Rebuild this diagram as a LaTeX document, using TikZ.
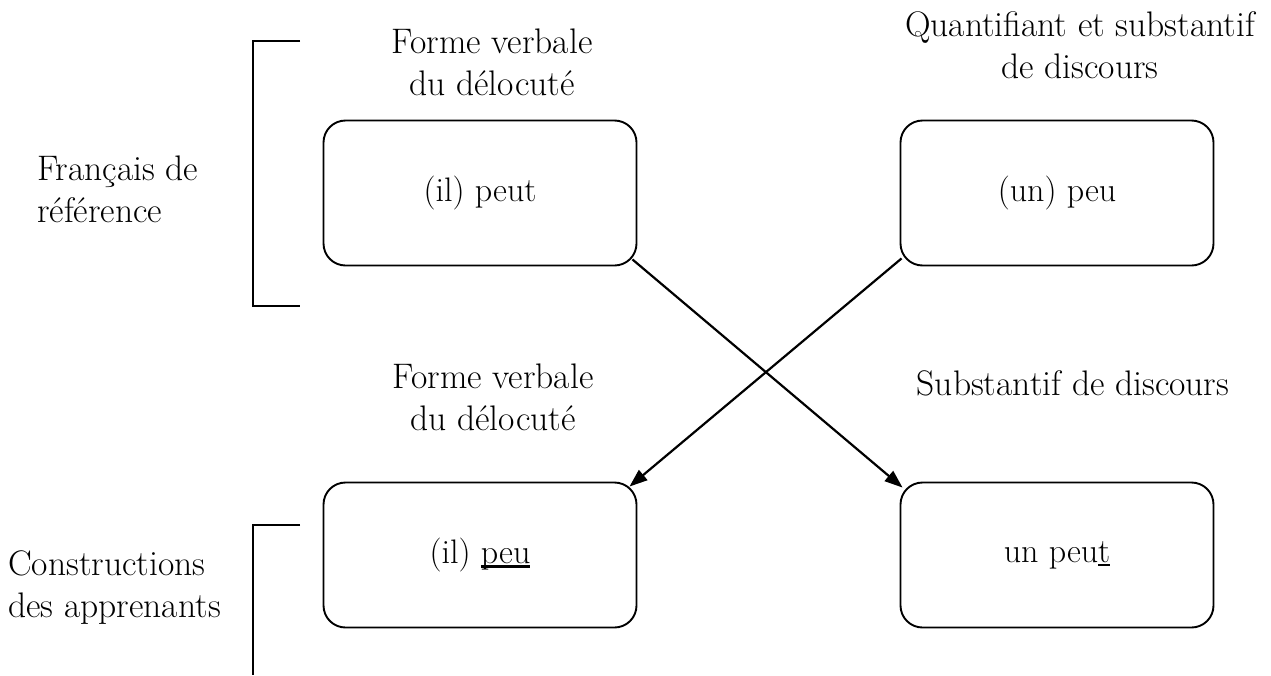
\documentclass[tikz,border=0pt]{standalone}
\usepackage{fontspec}
\usetikzlibrary{arrows.meta}
\newcommand\ulbase[1]{{\setbox0\hbox{#1}\rlap{\rule[-0.12em]{\wd0}{0.065em}}\box0}}
\tikzset{
  box/.style={draw, line width=1.9pt, rounded corners=22pt, minimum width=313pt, minimum height=145pt, inner sep=0pt, font=\fontsize{34}{41.5}\selectfont},
  lbl/.style={inner sep=0pt, anchor=base},
  conn/.style={line width=2.2pt, -{Triangle[length=18pt, width=13pt]}},
  brk/.style={line width=1.9pt},
}
\begin{document}
\begin{tikzpicture}[x=1pt, y=-1pt, font=\fontsize{35.5}{42}\selectfont]
\useasboundingbox (0,0) rectangle (1271,675);
% boxes
\node[box] (b1) at (480,193) {(il) peut};
\node[box] (b2) at (1057,193) {(un) peu};
\node[box] (b3) at (480,555) {(il) \ulbase{peu}};
\node[box] (b4) at (1057,555) {un peu\ulbase{t}};
% labels (base anchor = baseline of last line)
\node[lbl, align=center] (l1) at (492,95) {Forme verbale\\du délocuté};
\node[lbl, align=center] (l2) at (1080,78) {Quantifiant et substantif\\de discours};
\node[lbl, align=left, anchor=base west] (l3) at (37,222) {Français de\\référence};
\node[lbl, align=center] (l4) at (493,430) {Forme verbale\\du délocuté};
\node[lbl] (l5) at (1073,395) {Substantif de discours};
\node[lbl, align=left, anchor=base west] (l6) at (8,617) {Constructions\\des apprenants};
% brackets
\draw[brk] (300,41) -- (253,41) -- (253,306) -- (300,306);
\draw[brk] (300,525) -- (253,525) -- (253,675);
% connectors
\draw[conn] ([shift={(-5pt,7pt)}]b1.south east) -- ([shift={(3pt,-6pt)}]b4.north west);
\draw[conn] ([shift={(2pt,8pt)}]b2.south west) -- ([shift={(-8pt,-5pt)}]b3.north east);
\end{tikzpicture}
\end{document}
